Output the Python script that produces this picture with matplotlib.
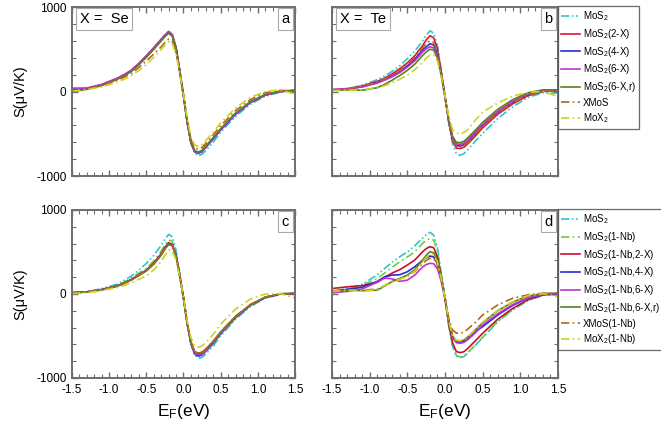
import matplotlib
matplotlib.use("Agg")
from matplotlib import pyplot as plt
from matplotlib.ticker import MultipleLocator

plt.rcParams['font.family'] = ['Liberation Sans', 'DejaVu Sans']
plt.rcParams['mathtext.default'] = 'regular'
plt.rcParams['axes.unicode_minus'] = False

# Fermi energy grid (eV) shared by all curves
E_F = [-1.5, -1.3, -1.1, -0.9, -0.8, -0.7, -0.6, -0.5, -0.4, -0.3, -0.25,
       -0.2, -0.15, -0.1, -0.05, 0.0, 0.05, 0.1, 0.15, 0.2, 0.25, 0.3,
       0.4, 0.5, 0.7, 0.9, 1.1, 1.3, 1.5]

# panel a : X = Se
A_MOS2 = [5, 30, 75, 145, 190, 245, 325, 415, 515, 620, 675, 715, 680, 525, 250, -40, -355, -595, -725, -758, -742, -700, -600, -480, -295, -150, -55, -8, 5]
A_2X = [10, 35, 80, 150, 195, 250, 330, 420, 515, 615, 665, 705, 665, 515, 245, -45, -360, -600, -705, -722, -700, -650, -550, -445, -265, -125, -40, 0, 12]
A_4X = [15, 35, 78, 145, 190, 245, 322, 410, 505, 605, 655, 695, 660, 510, 240, -50, -370, -610, -715, -732, -712, -662, -562, -455, -270, -130, -42, 0, 14]
A_6X = [40, 42, 85, 155, 200, 255, 335, 425, 520, 620, 668, 708, 668, 515, 240, -50, -365, -603, -710, -727, -705, -655, -555, -450, -265, -127, -42, 0, 14]
A_6XR = [0, 25, 70, 140, 185, 240, 318, 405, 500, 600, 650, 690, 655, 505, 238, -50, -360, -595, -700, -716, -697, -647, -547, -440, -255, -118, -34, 5, 15]
A_XMOS = [10, 30, 70, 130, 170, 215, 285, 360, 445, 530, 580, 620, 595, 460, 220, -40, -335, -565, -668, -682, -662, -612, -512, -405, -225, -95, -15, 15, 5]
A_MOX2 = [5, 22, 55, 110, 145, 190, 250, 320, 405, 495, 550, 590, 570, 445, 215, -30, -315, -535, -633, -650, -630, -580, -480, -370, -195, -70, 0, 20, -30]

# panel b : X = Te
B_MOS2 = [15, 30, 75, 140, 185, 240, 305, 390, 480, 595, 665, 718, 690, 540, 250, -60, -380, -620, -735, -755, -735, -690, -590, -495, -320, -180, -70, -15, -20]
B_2X = [15, 30, 65, 120, 160, 210, 270, 340, 425, 540, 610, 660, 635, 500, 235, -60, -360, -580, -670, -675, -660, -620, -530, -430, -270, -145, -50, 0, 10]
B_4X = [20, 30, 55, 105, 140, 185, 240, 305, 385, 490, 530, 565, 550, 440, 210, -60, -350, -560, -640, -645, -630, -590, -500, -400, -245, -125, -35, 5, 10]
B_6X = [25, 35, 55, 100, 135, 175, 225, 290, 365, 465, 505, 530, 515, 415, 200, -60, -340, -545, -620, -625, -612, -575, -485, -390, -235, -115, -30, 10, 15]
B_6XR = [15, 20, 15, 45, 85, 135, 190, 250, 325, 425, 468, 500, 490, 395, 190, -60, -330, -530, -600, -605, -590, -550, -460, -365, -210, -95, -15, 20, 20]
B_XMOS = [15, 30, 60, 115, 150, 195, 250, 320, 405, 515, 570, 600, 580, 460, 220, -60, -355, -565, -645, -655, -640, -600, -510, -410, -255, -130, -40, 5, 5]
B_MOX2 = [10, 15, 20, 45, 70, 105, 145, 195, 260, 345, 395, 430, 430, 360, 180, -50, -300, -450, -492, -500, -485, -455, -340, -245, -135, -55, -10, 0, -60]

# panel c : X = Se, Nb doped
C_MOS2 = [10, 25, 65, 115, 160, 215, 285, 365, 460, 580, 650, 710, 680, 520, 240, -45, -360, -600, -730, -765, -755, -715, -620, -500, -300, -150, -50, -5, 0]
C_NB = [10, 25, 55, 100, 140, 190, 250, 305, 395, 510, 585, 645, 625, 480, 225, -45, -350, -585, -710, -740, -730, -690, -595, -480, -285, -140, -45, 0, 5]
C_2X = [15, 25, 50, 95, 130, 175, 230, 285, 370, 480, 555, 610, 590, 460, 215, -45, -345, -570, -690, -710, -700, -662, -570, -455, -270, -130, -40, 0, 5]
C_4X = [10, 25, 50, 95, 128, 172, 225, 280, 362, 470, 545, 600, 580, 455, 215, -50, -355, -590, -715, -738, -725, -680, -585, -470, -280, -135, -42, 0, 5]
C_6X = [20, 25, 55, 95, 128, 170, 222, 278, 360, 468, 540, 595, 578, 452, 212, -50, -352, -585, -710, -725, -715, -672, -578, -465, -276, -132, -40, 0, 5]
C_6XR = [15, 25, 50, 90, 125, 168, 220, 275, 355, 462, 535, 590, 572, 448, 210, -50, -348, -575, -690, -705, -695, -655, -565, -455, -268, -128, -38, 2, 8]
C_XMOS = [10, 25, 50, 92, 127, 170, 224, 280, 360, 468, 540, 600, 580, 452, 212, -48, -345, -572, -688, -702, -692, -652, -560, -450, -265, -125, -35, 3, 10]
C_MOX2 = [5, 15, 40, 75, 100, 135, 175, 215, 285, 390, 460, 525, 515, 405, 195, -40, -320, -520, -615, -635, -620, -580, -480, -360, -180, -60, 0, 5, -50]

# panel d : X = Te, Nb doped
D_MOS2 = [25, 65, 115, 226, 305, 380, 444, 500, 575, 665, 705, 734, 700, 545, 250, -55, -380, -625, -740, -757, -745, -705, -615, -520, -330, -190, -80, -15, -10]
D_NB = [20, 55, 100, 185, 250, 320, 385, 440, 504, 600, 640, 662, 640, 510, 235, -55, -375, -615, -730, -750, -740, -700, -610, -515, -325, -185, -75, -12, -5]
D_2X = [65, 85, 100, 140, 200, 250, 290, 345, 405, 500, 540, 563, 550, 440, 210, -60, -360, -580, -685, -698, -688, -650, -560, -468, -300, -170, -70, -10, 0]
D_4X = [35, 55, 80, 150, 205, 225, 230, 265, 325, 400, 430, 452, 440, 360, 180, -50, -320, -510, -570, -575, -565, -530, -450, -389, -250, -135, -50, -5, 5]
D_6X = [15, 30, 60, 140, 190, 180, 150, 165, 226, 320, 350, 365, 360, 300, 150, -55, -330, -520, -580, -587, -577, -545, -465, -369, -235, -125, -45, -5, 5]
D_6XR = [30, 45, 40, 45, 95, 150, 185, 225, 290, 400, 460, 504, 490, 400, 195, -50, -320, -505, -555, -560, -550, -515, -430, -341, -200, -95, -25, 5, 10]
D_XMOS = [30, 45, 45, 60, 100, 150, 180, 210, 270, 360, 400, 425, 420, 345, 170, -50, -290, -430, -465, -468, -455, -420, -340, -250, -130, -50, -10, 10, 10]
D_MOX2 = [30, 45, 40, 50, 100, 145, 175, 210, 275, 380, 435, 470, 460, 380, 185, -50, -315, -500, -550, -555, -545, -510, -425, -335, -195, -90, -20, 5, -35]

LABELS_AB = ['MoS$_2$', 'MoS$_2$(2-X)', 'MoS$_2$(4-X)', 'MoS$_2$(6-X)',
             'MoS$_2$(6-X,r)', 'XMoS', 'MoX$_2$']
LABELS_CD = ['MoS$_2$', 'MoS$_2$(1-Nb)', 'MoS$_2$(1-Nb,2-X)', 'MoS$_2$(1-Nb,4-X)',
             'MoS$_2$(1-Nb,6-X)', 'MoS$_2$(1-Nb,6-X,r)', 'XMoS(1-Nb)', 'MoX$_2$(1-Nb)']

# line styles
DDOT = (0, (5, 1.5, 1, 1.5, 1, 1.5))
DDASH = (0, (5, 2, 1, 2))
ST_MOS2 = ('#2cc6d2', DDOT)
ST_NB = ('#6ccc40', DDASH)
ST_2X = ('#e0162c', '-')
ST_2X_NB = ('#c8102a', '-')
ST_4X = ('#2b2bd0', '-')
ST_6X = ('#c032d0', '-')
ST_6XR = ('#5b7f22', '-')
ST_XMOS = ('#b8641e', DDASH)
ST_MOX2 = ('#c8d620', DDASH)

GRAY = '#6e6e6e'


def style_axes(ax, letter, show_x, show_y):
    ax.set_xlim(-1.5, 1.5)
    ax.set_ylim(-1000, 1000)
    ax.xaxis.set_major_locator(MultipleLocator(0.5))
    ax.xaxis.set_minor_locator(MultipleLocator(0.1))
    ax.yaxis.set_major_locator(MultipleLocator(1000))
    ax.yaxis.set_minor_locator(MultipleLocator(200))
    ax.tick_params(which='both', direction='in', top=True, right=True,
                   color=GRAY, labelsize=8.5, pad=4)
    ax.tick_params(which='major', length=4, width=1)
    ax.tick_params(which='minor', length=3, width=0.8)
    for sp in ax.spines.values():
        sp.set_color(GRAY)
        sp.set_linewidth(1.4)
    if not show_x:
        ax.set_xticklabels([])
    if not show_y:
        ax.set_yticklabels([])
    ax.text(0.957, 0.93, letter, transform=ax.transAxes, fontsize=10.5,
            ha='center', va='center',
            bbox=dict(boxstyle='square,pad=0.25', fc='white', ec='#aaaaaa', lw=0.8))


def draw_panel(ax, series, styles, labels):
    for y, (col, ls), lab in zip(series, styles, labels):
        ax.plot(E_F, y, color=col, linestyle=ls, lw=1.2, label=lab)


def add_legend(ax):
    leg = ax.legend(loc='upper left', bbox_to_anchor=(1.0, 1.005),
                    borderaxespad=0, fontsize=7, frameon=True, fancybox=False,
                    edgecolor='#444444', handlelength=1.9, handletextpad=0.3,
                    labelspacing=0.38, borderpad=0.35)
    leg.get_frame().set_linewidth(0.9)


def main():
    fig = plt.figure(figsize=(6.61, 4.29), dpi=100)
    ax_a = fig.add_axes([0.1089, 0.5897, 0.3374, 0.3939])
    ax_b = fig.add_axes([0.5023, 0.5897, 0.3419, 0.3939])
    ax_c = fig.add_axes([0.1089, 0.1189, 0.3374, 0.3916])
    ax_d = fig.add_axes([0.5023, 0.1189, 0.3419, 0.3916])

    st_ab = [ST_MOS2, ST_2X, ST_4X, ST_6X, ST_6XR, ST_XMOS, ST_MOX2]
    st_cd = [ST_MOS2, ST_NB, ST_2X_NB, ST_4X, ST_6X, ST_6XR, ST_XMOS, ST_MOX2]

    draw_panel(ax_a, [A_MOS2, A_2X, A_4X, A_6X, A_6XR, A_XMOS, A_MOX2], st_ab, LABELS_AB)
    draw_panel(ax_b, [B_MOS2, B_2X, B_4X, B_6X, B_6XR, B_XMOS, B_MOX2], st_ab, LABELS_AB)
    draw_panel(ax_c, [C_MOS2, C_NB, C_2X, C_4X, C_6X, C_6XR, C_XMOS, C_MOX2], st_cd, LABELS_CD)
    draw_panel(ax_d, [D_MOS2, D_NB, D_2X, D_4X, D_6X, D_6XR, D_XMOS, D_MOX2], st_cd, LABELS_CD)

    style_axes(ax_a, 'a', False, True)
    style_axes(ax_b, 'b', False, False)
    style_axes(ax_c, 'c', True, True)
    style_axes(ax_d, 'd', True, False)

    box = dict(boxstyle='square,pad=0.25', fc='white', ec='#aaaaaa', lw=0.8)
    ax_a.text(0.035, 0.93, 'X =  Se', transform=ax_a.transAxes, fontsize=10.5,
              va='center', bbox=box)
    ax_b.text(0.035, 0.93, 'X =  Te', transform=ax_b.transAxes, fontsize=10.5,
              va='center', bbox=box)

    add_legend(ax_b)
    add_legend(ax_d)

    for ax in (ax_a, ax_c):
        ax.set_ylabel('S(\u03bcV/K)', fontsize=10.5, labelpad=6)
    for ax in (ax_c, ax_d):
        ax.set_xlabel('E$_F$(eV)', fontsize=12.5, labelpad=5)

    fig.savefig('out.png', dpi=100)


if __name__ == "__main__":
    main()
